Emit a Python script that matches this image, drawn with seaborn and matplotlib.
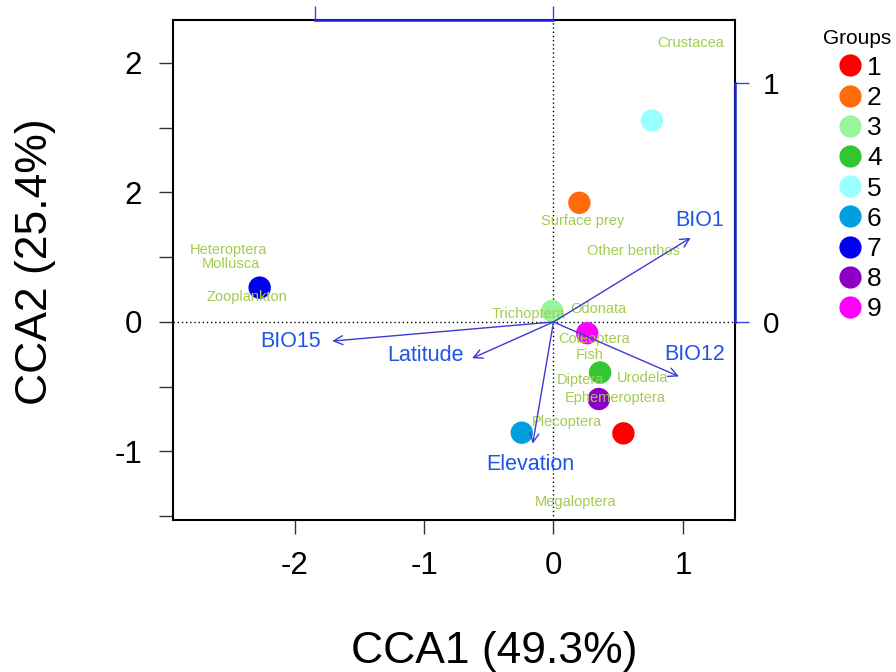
import numpy as np
import pandas as pd
import matplotlib
matplotlib.use("Agg")
import matplotlib.pyplot as plt
import seaborn as sns

# ---- data ----
groups = ["1", "2", "3", "4", "5", "6", "7", "8", "9"]
site_x = [0.54, 0.20, -0.01, 0.36, 0.76, -0.245, -2.27, 0.35, 0.26]
site_y = [-0.86, 0.92, 0.085, -0.39, 1.555, -0.855, 0.265, -0.595, -0.087]
group_colors = ["#FF0000", "#FF6A0A", "#99F599", "#33C633", "#99FFFF",
                "#00A0E0", "#0000F0", "#8B00C4", "#FF00FF"]

species = ["Crustacea", "Surface prey", "Other benthos", "Odonata", "Trichoptera",
           "Coleoptera", "Fish", "Urodela", "Diptera", "Ephemeroptera",
           "Plecoptera", "Megaloptera", "Heteroptera", "Mollusca", "Zooplankton"]
sp_x = [1.06, 0.225, 0.615, 0.35, -0.195, 0.31, 0.28, 0.69, 0.205, 0.48,
        0.10, 0.17, -2.51, -2.49, -2.37]
sp_y = [2.15, 0.78, 0.548, 0.10, 0.06, -0.134, -0.255, -0.43, -0.448, -0.585,
        -0.775, -1.39, 0.556, 0.446, 0.19]

env = ["BIO1", "BIO12", "BIO15", "Latitude", "Elevation"]
env_x = [0.574, 0.525, -0.926, -0.341, -0.087]   # biplot scores
env_y = [0.352, -0.228, -0.080, -0.152, -0.509]
env_lab_x = [1.13, 1.09, -2.03, -0.99, -0.18]
env_lab_y = [0.78, -0.25, -0.15, -0.26, -1.10]
mul = 1.846  # arrow scaling

x_ticks = [-2, -1, 0, 1]
y_ticks = [-1.5, -1, -0.5, 0, 0.5, 1, 1.5, 2]
y_ticklabels = ["", "-1", "", "0", "", "2", "", "2"]

sites = pd.DataFrame({"CCA1": site_x, "CCA2": site_y, "Group": groups})

# ---- style ----
sns.set_theme(style="white")
plt.rcParams["font.family"] = ["Liberation Sans", "DejaVu Sans"]
plt.rcParams["text.color"] = "black"

fig = plt.figure(figsize=(8.96, 6.72), dpi=100)
ax = fig.add_axes([0.193, 0.226, 0.627, 0.744])
xlim = (-2.94, 1.40)
ylim = (-1.53, 2.33)

ax.axhline(0, color="black", ls=(0, (1, 2)), lw=1, zorder=1)
ax.axvline(0, color="black", ls=(0, (1, 2)), lw=1, zorder=1)

sns.scatterplot(data=sites, x="CCA1", y="CCA2", hue="Group", palette=group_colors,
                hue_order=groups, s=260, edgecolor="none", ax=ax, zorder=3, legend=True)

for name, x, y in zip(species, sp_x, sp_y):
    ax.text(x, y, name, color="#A3CB4E", fontsize=10.5, ha="center", va="center", zorder=4)

for name, x, y, lx, ly in zip(env, env_x, env_y, env_lab_x, env_lab_y):
    ax.annotate("", xy=(x * mul, y * mul), xytext=(0, 0),
                arrowprops=dict(arrowstyle="->", color="#3A3AD6", lw=1.0,
                                mutation_scale=16, shrinkA=0, shrinkB=0), zorder=5)
    ax.text(lx, ly, name, color="#1F55E6", fontsize=15.5, ha="center", va="center", zorder=5)

ax.set_xlim(xlim)
ax.set_ylim(ylim)
ax.set_xticks(x_ticks)
ax.set_xticklabels([str(t) for t in x_ticks])
ax.set_yticks(y_ticks)
ax.set_yticklabels(y_ticklabels)
ax.tick_params(axis="both", direction="out", length=10, width=1, colors="#333333",
               labelcolor="black", labelsize=22.5, pad=12, bottom=True, left=True)
ax.set_xlabel("")
ax.set_ylabel("")
for s in ax.spines.values():
    s.set_visible(True)
    s.set_color("black")
    s.set_linewidth(1.5)

# legend (title drawn separately)
h, l = ax.get_legend_handles_labels()
leg = ax.legend(h, l, loc="upper left", bbox_to_anchor=(1.158, 0.95),
                frameon=False, fontsize=19, labelspacing=0.235,
                handlelength=1.2, handletextpad=0.05, borderaxespad=0, markerscale=1.0)
for hd in leg.legend_handles:
    hd.set_markersize(16)
for t in leg.get_texts():
    t.set_color("black")
fig.text(857 / 896, 1 - 38 / 672, "Groups", fontsize=15, ha="center", va="center",
         color="black")

# right axis for arrows
ax2 = ax.twinx()
ax2.set_ylim(ylim[0] / mul, ylim[1] / mul)
for s in ["left", "top", "bottom"]:
    ax2.spines[s].set_visible(False)
ax2.spines["right"].set_bounds(0, 1)
ax2.spines["right"].set_color("#2020E0")
ax2.spines["right"].set_linewidth(1.8)
ax2.set_yticks([0, 1])
ax2.set_yticklabels(["0", "1"])
ax2.tick_params(axis="y", right=True, direction="out", length=10, width=1,
                colors="#4040E0", labelcolor="black", labelsize=21.5, pad=10)
ax2.grid(False)

# top axis for arrows
ax3 = ax.twiny()
ax3.set_xlim(xlim[0] / mul, xlim[1] / mul)
for s in ["left", "right", "bottom"]:
    ax3.spines[s].set_visible(False)
ax3.spines["top"].set_bounds(-1, 0)
ax3.spines["top"].set_color("#2020E0")
ax3.spines["top"].set_linewidth(1.8)
ax3.set_xticks([-1, 0])
ax3.set_xticklabels(["", ""])
ax3.tick_params(axis="x", top=True, direction="out", length=10, width=1,
                colors="#4040E0")
ax3.grid(False)

fig.text(494 / 896, 1 - 651 / 672, "CCA1 (49.3%)", fontsize=32, ha="center", va="center",
         color="black")
fig.text(36 / 896, 1 - 262 / 672, "CCA2 (25.4%)", fontsize=32, ha="center", va="center",
         rotation=90, color="black")

fig.savefig("out.png", dpi=100)
